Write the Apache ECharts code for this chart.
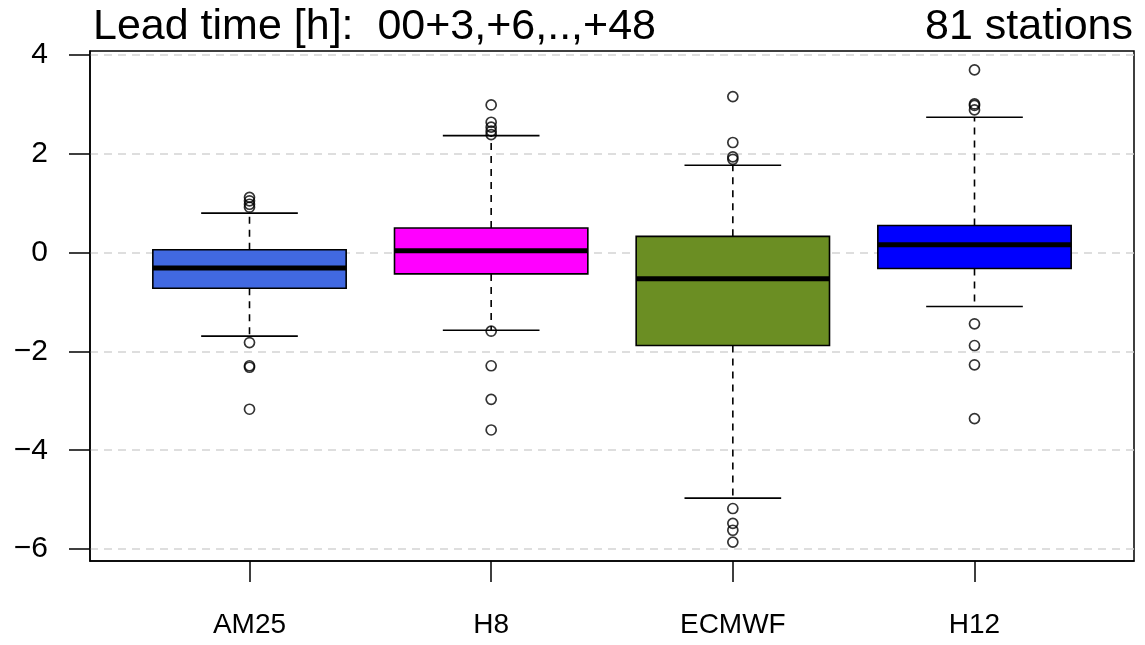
<!DOCTYPE html>
<html>
<head>
<meta charset="utf-8">
<script src="https://cdn.jsdelivr.net/npm/echarts@6/dist/echarts.min.js"></script>
<style>html,body{margin:0;padding:0;background:#fff}#chart{width:1145px;height:645px}</style>
</head>
<body>
<div id="chart"></div>
<script>
// ---- data ----
const categories = ['AM25', 'H8', 'ECMWF', 'H12'];
const lowerWhisker = [-1.69, -1.57, -4.97, -1.09];
const q1 = [-0.72, -0.43, -1.88, -0.32];
const median = [-0.31, 0.04, -0.53, 0.16];
const q3 = [0.06, 0.50, 0.33, 0.55];
const upperWhisker = [0.80, 2.37, 1.77, 2.74];
const outliersAM25 = [1.12, 1.05, 0.98, 0.92, -1.82, -2.29, -2.32, -3.17];
const outliersH8 = [2.99, 2.64, 2.54, 2.46, 2.39, -1.59, -2.29, -2.97, -3.59];
const outliersECMWF = [3.16, 2.23, 1.94, 1.89, -5.18, -5.48, -5.62, -5.86];
const outliersH12 = [3.70, 3.01, 2.98, 2.89, -1.44, -1.88, -2.27, -3.36];
const yTicks = [-6, -4, -2, 0, 2, 4];
const xTicks = [1, 2, 3, 4];
const titleLeft = 'Lead time [h]:  00+3,+6,..,+48';
const titleRight = '81 stations';

// ---- style ----
const boxColors = ['#4169E1', '#FF00FF', '#6B8E23', '#0000FF'];
const FONT = '"Liberation Sans", Arial, Helvetica, sans-serif';

const allOutliers = [outliersAM25, outliersH8, outliersECMWF, outliersH12];
const boxData = categories.map((c, i) => [i + 1, lowerWhisker[i], q1[i], median[i], q3[i], upperWhisker[i]]);
const outlierData = [];
allOutliers.forEach((arr, i) => arr.forEach(v => outlierData.push([i + 1, v])));

let dmin = Infinity, dmax = -Infinity;
allOutliers.forEach(a => a.forEach(v => { dmin = Math.min(dmin, v); dmax = Math.max(dmax, v); }));
lowerWhisker.forEach(v => dmin = Math.min(dmin, v));
upperWhisker.forEach(v => dmax = Math.max(dmax, v));
const ext = (dmax - dmin) * 0.04;
const yMin = dmin - ext, yMax = dmax + ext;
const xMin = 0.5 - 4 * 0.04, xMax = categories.length + 0.5 + 4 * 0.04;

const chart = echarts.init(document.getElementById('chart'), null, {renderer: 'canvas'});

function renderBox(params, api) {
  const x = api.value(0);
  const lw = api.coord([x, api.value(1)]);
  const b1 = api.coord([x, api.value(2)]);
  const md = api.coord([x, api.value(3)]);
  const b3 = api.coord([x, api.value(4)]);
  const uw = api.coord([x, api.value(5)]);
  const half = api.size([0.4, 0])[0];
  const cap = api.size([0.2, 0])[0];
  const cx = b1[0];
  const idx = params.dataIndex;
  const dashStyle = {stroke: '#000', lineWidth: 1.6, lineDash: [7, 6]};
  const solid = {stroke: '#000', lineWidth: 1.6};
  return {
    type: 'group',
    children: [
      {type: 'line', shape: {x1: cx, y1: b3[1], x2: cx, y2: uw[1]}, style: dashStyle},
      {type: 'line', shape: {x1: cx, y1: b1[1], x2: cx, y2: lw[1]}, style: dashStyle},
      {type: 'line', shape: {x1: cx - cap, y1: uw[1], x2: cx + cap, y2: uw[1]}, style: solid},
      {type: 'line', shape: {x1: cx - cap, y1: lw[1], x2: cx + cap, y2: lw[1]}, style: solid},
      {type: 'rect', shape: {x: cx - half, y: b3[1], width: half * 2, height: b1[1] - b3[1]},
        style: {fill: boxColors[idx], stroke: '#000', lineWidth: 1.6}},
      {type: 'line', shape: {x1: cx - half, y1: md[1], x2: cx + half, y2: md[1]},
        style: {stroke: '#000', lineWidth: 5}}
    ]
  };
}

const option = {
  animation: false,
  backgroundColor: '#fff',
  title: [
    {text: titleLeft, left: 88, top: 1, textStyle: {fontFamily: FONT, fontSize: 43, fontWeight: 'normal', color: '#000'}},
    {text: titleRight, right: 7, top: 1, textStyle: {fontFamily: FONT, fontSize: 43, fontWeight: 'normal', color: '#000'}}
  ],
  grid: {left: 90, right: 11, top: 51, bottom: 84, show: true, borderColor: '#000', borderWidth: 1.5, backgroundColor: 'transparent'},
  xAxis: {
    type: 'value', min: xMin, max: xMax,
    axisLine: {show: true, onZero: false, lineStyle: {color: '#000', width: 1.5}},
    axisTick: {show: true, length: 21, customValues: xTicks, lineStyle: {color: '#000', width: 1.5}},
    axisLabel: {show: true, customValues: xTicks, margin: 50, fontFamily: FONT, fontSize: 28, color: '#000',
      formatter: v => categories[Math.round(v) - 1] || ''},
    splitLine: {show: false}
  },
  yAxis: {
    type: 'value', min: yMin, max: yMax,
    axisLine: {show: true, onZero: false, lineStyle: {color: '#000', width: 1.5}},
    axisTick: {show: true, length: 21, customValues: yTicks, lineStyle: {color: '#000', width: 1.5}},
    axisLabel: {show: true, customValues: yTicks, margin: 42, fontFamily: FONT, fontSize: 30, color: '#000',
      formatter: v => (v < 0 ? '\u2212' + Math.abs(v) : String(v))},
    splitLine: {show: false}
  },
  series: [
    {
      type: 'scatter', data: [], z: 0, silent: true,
      markLine: {
        z: 0, silent: true, symbol: ['none', 'none'], label: {show: false},
        lineStyle: {color: '#D3D3D3', type: [8, 6], width: 1.5},
        emphasis: {disabled: true},
        data: yTicks.map(v => ({yAxis: v}))
      }
    },
    {
      type: 'custom', z: 3, renderItem: renderBox, data: boxData,
      encode: {x: 0, y: [1, 2, 3, 4, 5]}
    },
    {
      type: 'scatter', z: 4, data: outlierData, symbol: 'circle', symbolSize: 10,
      itemStyle: {color: 'rgba(0,0,0,0)', borderColor: '#000', borderWidth: 1.7}
    }
  ]
};
chart.setOption(option);
</script>
</body>
</html>
